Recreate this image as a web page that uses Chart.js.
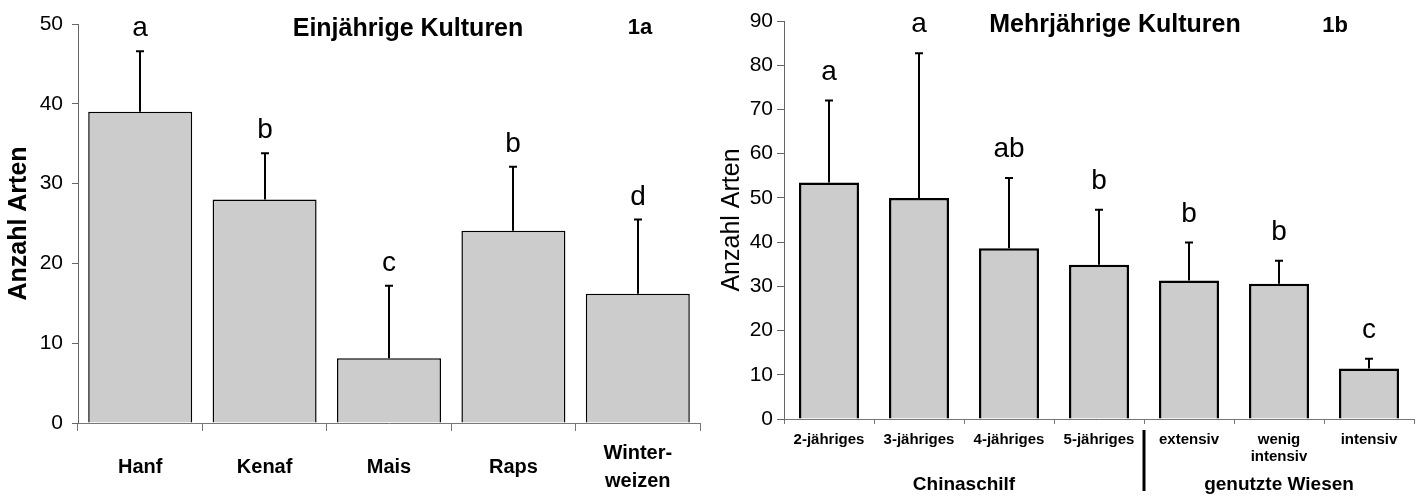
<!DOCTYPE html>
<html><head><meta charset="utf-8">
<script src="https://cdn.jsdelivr.net/npm/chart.js@4.4.1/dist/chart.umd.min.js"></script>
<style>
html,body{margin:0;padding:0;background:#fff;width:1423px;height:497px;overflow:hidden}
canvas{position:absolute;top:0}
#ca{left:0}
#cb{left:712px}
</style></head><body>
<canvas id="ca" width="712" height="497"></canvas>
<canvas id="cb" width="711" height="497"></canvas>
<script>
// ---- Data: Figure 1a (annual crops) ----
const catsA = ['Hanf', 'Kenaf', 'Mais', 'Raps', ['Winter-', 'weizen']];
const meansA = [39.0, 28.0, 8.1, 24.1, 16.2];
const sdA = [7.6, 5.8, 9.1, 8.0, 9.3];
const lettersA = ['a', 'b', 'c', 'b', 'd'];
const titleA = 'Einjährige Kulturen';
const tagA = '1a';

// ---- Data: Figure 1b (perennial crops) ----
const catsB = ['2-jähriges', '3-jähriges', '4-jähriges', '5-jähriges', 'extensiv', ['wenig', 'intensiv'], 'intensiv'];
const meansB = [53.5, 50.0, 38.6, 34.9, 31.3, 30.6, 11.4];
const sdB = [18.5, 32.7, 15.9, 12.4, 8.6, 5.2, 2.2];
const lettersB = ['a', 'a', 'ab', 'b', 'b', 'b', 'c'];
const groupsB = ['Chinaschilf', 'genutzte Wiesen'];
const groupSplitB = 4; // first category index of second group
const titleB = 'Mehrjährige Kulturen';
const tagB = '1b';
const yTitle = 'Anzahl Arten';

const FONT = "'Liberation Sans', Arial, Helvetica, sans-serif";
Chart.defaults.font.family = FONT;
Chart.defaults.color = '#000';

function annot(cfg) {
  return {
    id: 'annot',
    afterDatasetsDraw(chart) {
      const ctx = chart.ctx, ys = chart.scales.y, xs = chart.scales.x;
      const meta = chart.getDatasetMeta(0);
      ctx.save();
      ctx.strokeStyle = '#000';
      ctx.fillStyle = '#000';
      cfg.means.forEach((m, i) => {
        const cx = Math.round(meta.data[i].x);
        const yb = ys.getPixelForValue(m);
        const yt = ys.getPixelForValue(m + cfg.sd[i]);
        ctx.lineWidth = 2;
        ctx.beginPath();
        ctx.moveTo(cx, yb); ctx.lineTo(cx, yt);
        ctx.moveTo(cx - 4, yt); ctx.lineTo(cx + 4, yt);
        ctx.stroke();
        ctx.font = '28px ' + FONT;
        ctx.textAlign = 'center';
        ctx.textBaseline = 'alphabetic';
        ctx.fillText(cfg.letters[i], cx, yt - cfg.gap);
      });
      ctx.font = 'bold 25px ' + FONT;
      ctx.textAlign = 'center';
      ctx.fillText(cfg.title, cfg.titleX, cfg.titleY);
      ctx.font = 'bold 22px ' + FONT;
      ctx.fillText(cfg.tag, cfg.tagX, cfg.tagY);
      if (cfg.groups) {
        const half = (xs.getPixelForValue(1) - xs.getPixelForValue(0)) / 2;
        const left = xs.getPixelForValue(0) - half;
        const split = xs.getPixelForValue(cfg.split) - half;
        const right = xs.getPixelForValue(cfg.n - 1) + half;
        ctx.font = 'bold 19px ' + FONT;
        ctx.fillText(cfg.groups[0], (left + split) / 2, 490);
        ctx.fillText(cfg.groups[1], (split + right) / 2, 490);
        ctx.lineWidth = 3;
        ctx.beginPath();
        ctx.moveTo(split, 430); ctx.lineTo(split, 491);
        ctx.stroke();
      }
      ctx.restore();
    }
  };
}

function makeChart(id, o) {
  return new Chart(document.getElementById(id), {
    type: 'bar',
    data: {
      labels: o.cats,
      datasets: [{
        data: o.means,
        backgroundColor: '#cccccc',
        borderColor: '#000',
        borderWidth: o.bw,
        barPercentage: o.barPct,
        categoryPercentage: 1
      }]
    },
    options: {
      responsive: false,
      devicePixelRatio: 1,
      animation: false,
      layout: { padding: o.pad },
      plugins: { legend: { display: false }, tooltip: { enabled: false }, title: { display: false } },
      scales: {
        x: {
          offset: true,
          grid: { offset: true, drawOnChartArea: false, drawTicks: true, tickLength: o.xTick, color: '#777' },
          border: { display: true, color: '#777', width: 1 },
          ticks: {
            font: { size: o.xFont, weight: 'bold', lineHeight: o.xLH },
            padding: o.xPad, maxRotation: 0, autoSkip: false, crossAlign: o.cross, color: '#000'
          },
          afterFit: s => { s.height = o.xH; }
        },
        y: {
          min: 0, max: o.max,
          grid: { drawOnChartArea: false, drawTicks: true, tickLength: o.yTick, color: '#666' },
          border: { display: true, color: '#666', width: 1 },
          ticks: { stepSize: 10, font: { size: o.yFont }, padding: o.yPad, color: '#000' },
          title: { display: true, text: yTitle, font: { size: 25, weight: o.yTitleW }, padding: { top: o.yTitlePad, bottom: 0 }, color: '#000' },
          afterFit: s => { s.width = o.yW; }
        }
      }
    },
    plugins: [annot(o.annot)]
  });
}

makeChart('ca', {
  cats: catsA, means: meansA, bw: 1.5, barPct: 0.836, max: 50,
  pad: { top: 24, right: 12, bottom: 0, left: 0 },
  xTick: 8, xFont: 20, xLH: 1.4, xPad: 22, cross: 'center', xH: 74,
  yTick: 6, yFont: 21, yPad: 9, yTitleW: 'bold', yTitlePad: 4, yW: 78,
  annot: { means: meansA, sd: sdA, letters: lettersA, gap: 15, title: titleA, titleX: 408, titleY: 36, tag: tagA, tagX: 640, tagY: 34 }
});

makeChart('cb', {
  cats: catsB, means: meansB, bw: 2.5, barPct: 0.667, max: 90,
  pad: { top: 21, right: 9, bottom: 0, left: 0 },
  xTick: 5, xFont: 15, xLH: 1.1, xPad: 8, cross: 'near', xH: 78,
  yTick: 7, yFont: 21, yPad: 4, yTitleW: 'normal', yTitlePad: 5, yW: 72,
  annot: { means: meansB, sd: sdB, letters: lettersB, gap: 21, title: titleB, titleX: 403, titleY: 32, tag: tagB, tagX: 623, tagY: 32,
           groups: groupsB, split: groupSplitB, n: catsB.length }
});
</script>
</body></html>
